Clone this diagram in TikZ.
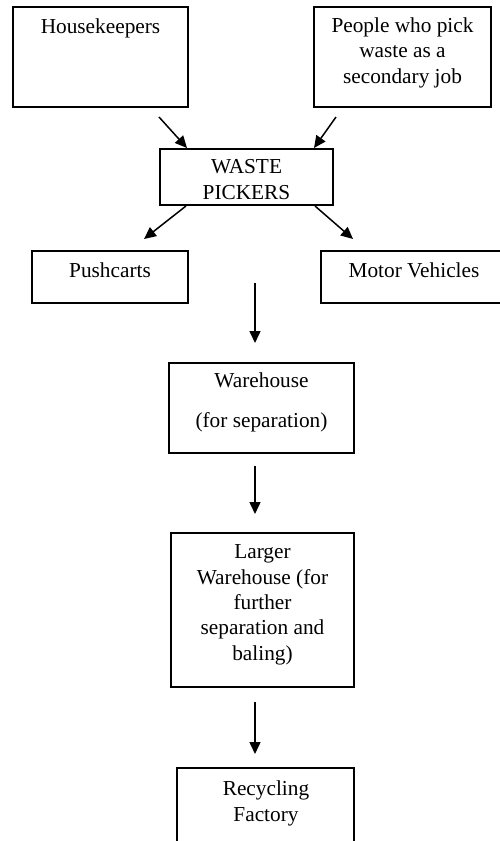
\documentclass[tikz,border=0pt]{standalone}
\usepackage{fontspec}
\setmainfont{Liberation Serif}
\usetikzlibrary{arrows.meta}
\begin{document}
\begin{tikzpicture}[x=1pt,y=-1pt,
  frame/.style={draw=black, line width=1.2pt, rectangle, inner sep=0pt},
  lbl/.style={anchor=base, align=center, inner sep=0pt, font=\fontsize{21.3}{25.3}\selectfont},
  arr/.style={line width=1.5pt, -{Triangle[length=12pt,width=11pt]}}]
\useasboundingbox (0,0) rectangle (499,841);
% boxes
\node[frame, minimum width=175pt, minimum height=100pt] (hk) at (100.5,57) {};
\node[frame, minimum width=177pt, minimum height=100pt] (pp) at (402.5,57) {};
\node[frame, minimum width=173pt, minimum height=56pt] (wp) at (246.5,177) {};
\node[frame, minimum width=156pt, minimum height=52pt] (pc) at (110,277) {};
\node[frame, minimum width=183pt, minimum height=52pt] (mv) at (412.5,277) {};
\node[frame, minimum width=185pt, minimum height=90pt] (wh) at (261.5,408) {};
\node[frame, minimum width=183pt, minimum height=154pt] (lw) at (262.5,610) {};
\node[frame, minimum width=177pt, minimum height=80pt] (rf) at (265.5,808) {};
% texts (base anchor = baseline of the last line)
\node[lbl] (hkt) at (100.5,33) {Housekeepers};
\node[lbl] (ppt) at (402.5,83) {People who pick\\waste as a\\secondary job};
\node[lbl] (wpt) at (246.5,199) {WASTE\\PICKERS};
\node[lbl] (pct) at (110,277) {Pushcarts};
\node[lbl] (mvt) at (414,277) {Motor Vehicles};
\node[lbl] (wht1) at (261.5,387) {Warehouse};
\node[lbl] (wht2) at (261.5,427) {(for separation)};
\node[lbl] (lwt) at (262.5,660) {Larger\\Warehouse (for\\further\\separation and\\baling)};
\node[lbl] (rft) at (266,821) {Recycling\\Factory};
% arrow end points
\coordinate (a1s) at (159,117); \coordinate (a1e) at (187,148);
\coordinate (a2s) at (336,117); \coordinate (a2e) at (314,148);
\coordinate (a3s) at (186,206); \coordinate (a3e) at (144,239);
\coordinate (a4s) at (315,206); \coordinate (a4e) at (353,239);
\coordinate (a5s) at (255,283); \coordinate (a5e) at (255,343);
\coordinate (a6s) at (255,466); \coordinate (a6e) at (255,514);
\coordinate (a7s) at (255,702); \coordinate (a7e) at (255,754);
\draw[arr] (a1s) -- (a1e);
\draw[arr] (a2s) -- (a2e);
\draw[arr] (a3s) -- (a3e);
\draw[arr] (a4s) -- (a4e);
\draw[arr] (a5s) -- (a5e);
\draw[arr] (a6s) -- (a6e);
\draw[arr] (a7s) -- (a7e);
\end{tikzpicture}
\end{document}
